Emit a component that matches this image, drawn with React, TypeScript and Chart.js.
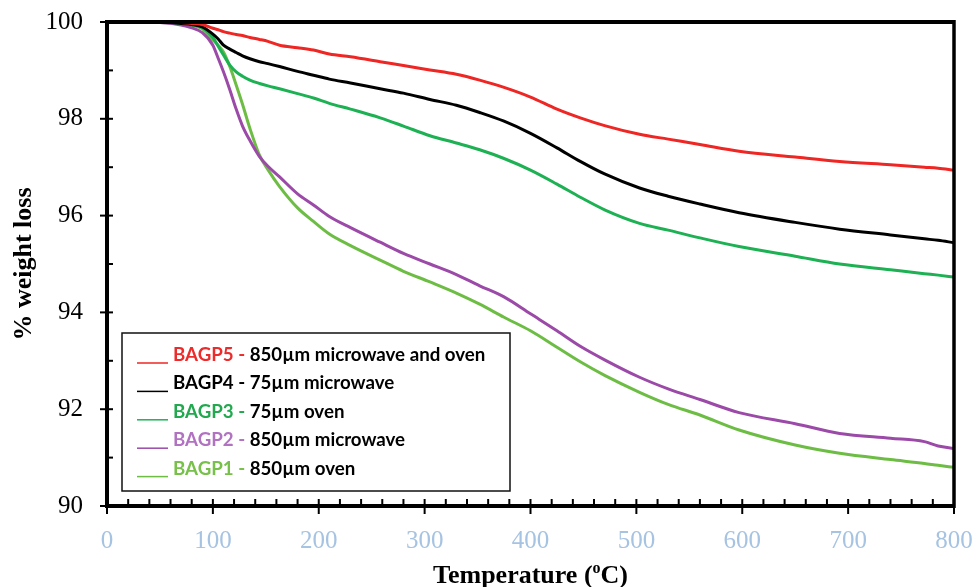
import { useEffect, useRef } from "react";
import { Chart, registerables } from "chart.js";

Chart.register(...registerables);

// Temperature (°C) sample points
const temperatures = [30, 50, 70, 80, 90, 100, 105, 110, 116, 122, 128, 135, 144, 152, 163, 180, 195, 210, 230, 258, 280, 305, 330, 352, 375, 400, 425, 447, 470, 503, 530, 560, 597, 650, 692, 740, 772, 785, 800];

// % weight loss per sample
const bagp5 = [100, 100, 99.99, 99.97, 99.95, 99.87, 99.84, 99.8, 99.77, 99.74, 99.72, 99.68, 99.64, 99.6, 99.52, 99.47, 99.42, 99.34, 99.28, 99.18, 99.1, 99.01, 98.92, 98.8, 98.65, 98.45, 98.2, 98.02, 97.86, 97.68, 97.58, 97.47, 97.33, 97.21, 97.12, 97.05, 97.0, 96.98, 96.94];
const bagp4 = [100, 100, 99.97, 99.95, 99.9, 99.75, 99.65, 99.52, 99.44, 99.37, 99.3, 99.24, 99.18, 99.14, 99.08, 98.98, 98.9, 98.82, 98.74, 98.62, 98.53, 98.4, 98.28, 98.13, 97.95, 97.7, 97.4, 97.12, 96.86, 96.57, 96.4, 96.24, 96.06, 95.86, 95.72, 95.6, 95.52, 95.49, 95.44];
const bagp3 = [100, 100, 99.97, 99.94, 99.88, 99.68, 99.5, 99.32, 99.11, 98.97, 98.88, 98.8, 98.73, 98.68, 98.62, 98.52, 98.43, 98.32, 98.2, 98.02, 97.85, 97.65, 97.5, 97.36, 97.18, 96.94, 96.65, 96.38, 96.12, 95.84, 95.7, 95.54, 95.36, 95.16, 95.0, 94.88, 94.8, 94.77, 94.73];
const bagp2 = [100, 99.99, 99.94, 99.88, 99.78, 99.52, 99.25, 98.97, 98.6, 98.2, 97.85, 97.55, 97.22, 97.02, 96.8, 96.45, 96.22, 95.98, 95.75, 95.45, 95.22, 95.0, 94.78, 94.55, 94.32, 93.97, 93.62, 93.3, 93.02, 92.66, 92.42, 92.2, 91.93, 91.7, 91.5, 91.4, 91.33, 91.24, 91.19];
const bagp1 = [100, 99.99, 99.96, 99.93, 99.86, 99.63, 99.52, 99.38, 99.08, 98.7, 98.3, 97.8, 97.25, 96.95, 96.6, 96.16, 95.88, 95.62, 95.38, 95.08, 94.85, 94.63, 94.4, 94.17, 93.9, 93.62, 93.28, 92.98, 92.7, 92.35, 92.1, 91.88, 91.57, 91.26, 91.09, 90.96, 90.88, 90.84, 90.8];

const seriesNames = ["BAGP5", "BAGP4", "BAGP3", "BAGP2", "BAGP1"];
const seriesDescriptions = ["850µm microwave and oven", "75µm microwave", "75µm oven", "850µm microwave", "850µm oven"];
const seriesValues = [bagp5, bagp4, bagp3, bagp2, bagp1];
const lineColors = ["#ee2724", "#000000", "#1db154", "#9b4aa8", "#6dbd45"];
const labelColors = ["#ee2b2b", "#000000", "#22a94f", "#b272c2", "#77c04a"];

const yMin = 90;
const yMax = 100;
const yStep = 2;
const yMinorStep = 1;
const xMin = 0;
const xMax = 800;
const xStep = 100;
const xMinorStep = 20;

const yTitle = "% weight loss";
const xTitleParts = ["Temperature (", "o", "C)"];

const decorPlugin = {
  id: "decor",
  afterDraw(chart: any) {
    const { ctx, chartArea: a, scales } = chart;
    const x = scales.x;
    const y = scales.y;
    ctx.save();
    ctx.strokeStyle = "#000";
    ctx.lineCap = "butt";
    // x ticks
    ctx.lineWidth = 2;
    for (let v = xMin; v <= xMax; v += xMinorStep) {
      const px = x.getPixelForValue(v);
      const major = v % xStep === 0;
      ctx.beginPath();
      ctx.moveTo(px, a.bottom - 7);
      ctx.lineTo(px, major ? a.bottom + 8 : a.bottom);
      ctx.stroke();
    }
    // y ticks
    for (let v = yMin; v <= yMax; v += yMinorStep) {
      const py = y.getPixelForValue(v);
      const major = (v - yMin) % yStep === 0;
      ctx.beginPath();
      ctx.moveTo(major ? a.left - 7 : a.left, py);
      ctx.lineTo(a.left + 6, py);
      ctx.stroke();
    }
    // frame
    ctx.lineWidth = 4;
    ctx.beginPath();
    ctx.moveTo(a.left - 2, a.top);
    ctx.lineTo(a.right, a.top);
    ctx.stroke();
    ctx.beginPath();
    ctx.moveTo(a.left, a.top - 2);
    ctx.lineTo(a.left, a.bottom + 2);
    ctx.stroke();
    ctx.beginPath();
    ctx.moveTo(a.left, a.bottom);
    ctx.lineTo(a.right, a.bottom);
    ctx.stroke();
    ctx.lineWidth = 3.5;
    ctx.beginPath();
    ctx.moveTo(a.right, a.top - 2);
    ctx.lineTo(a.right, a.bottom + 2);
    ctx.stroke();

    // legend
    const lx = a.left + 15;
    const ly = a.bottom - 173;
    const lw = 388;
    const lh = 158;
    ctx.fillStyle = "#fff";
    ctx.fillRect(lx, ly, lw, lh);
    ctx.lineWidth = 1.5;
    ctx.strokeStyle = "#111";
    ctx.strokeRect(lx, ly, lw, lh);
    ctx.font = "bold 18.7px Lato";
    ctx.textBaseline = "middle";
    ctx.textAlign = "left";
    for (let i = 0; i < seriesNames.length; i++) {
      const rowY = ly + 22 + i * 28.4;
      ctx.strokeStyle = lineColors[i];
      ctx.lineWidth = 1.5;
      ctx.beginPath();
      ctx.moveTo(lx + 15, rowY + 8);
      ctx.lineTo(lx + 46, rowY + 8);
      ctx.stroke();
      const prefix = seriesNames[i] + " - ";
      ctx.fillStyle = labelColors[i];
      ctx.fillText(prefix, lx + 51, rowY);
      const w = ctx.measureText(prefix).width;
      ctx.fillStyle = "#000";
      ctx.fillText(seriesDescriptions[i], lx + 51 + w, rowY);
    }

    // y title
    ctx.save();
    ctx.translate(24, (a.top + a.bottom) / 2);
    ctx.rotate(-Math.PI / 2);
    ctx.font = "bold 26px 'Liberation Serif'";
    ctx.fillStyle = "#000";
    ctx.textAlign = "center";
    ctx.textBaseline = "middle";
    ctx.fillText(yTitle, 0, 0);
    ctx.restore();

    // x title with superscript
    const big = "bold 26px 'Liberation Serif'";
    const small = "bold 16px 'Liberation Serif'";
    ctx.font = big;
    const w1 = ctx.measureText(xTitleParts[0]).width;
    const w3 = ctx.measureText(xTitleParts[2]).width;
    ctx.font = small;
    const w2 = ctx.measureText(xTitleParts[1]).width;
    const total = w1 + w2 + w3;
    const cx = (a.left + a.right) / 2;
    const base = 583;
    let sx = cx - total / 2;
    ctx.fillStyle = "#000";
    ctx.textAlign = "left";
    ctx.textBaseline = "alphabetic";
    ctx.font = big;
    ctx.fillText(xTitleParts[0], sx, base);
    sx += w1;
    ctx.font = small;
    ctx.fillText(xTitleParts[1], sx, base - 10);
    sx += w2;
    ctx.font = big;
    ctx.fillText(xTitleParts[2], sx, base);
    ctx.restore();
  },
};

const zeroPad = (s: any) => {
  s.paddingTop = 0;
  s.paddingBottom = 0;
  s.paddingLeft = 0;
  s.paddingRight = 0;
};

export default function App() {
  const ref = useRef<HTMLCanvasElement | null>(null);
  useEffect(() => {
    if (!ref.current) return;
    const chart = new Chart(ref.current, {
      type: "line",
      data: {
        datasets: seriesNames.map((name, i) => ({
          label: name,
          data: temperatures.map((t, j) => ({ x: t, y: seriesValues[i][j] })),
          borderColor: lineColors[i],
          backgroundColor: lineColors[i],
          borderWidth: 3,
          pointRadius: 0,
          cubicInterpolationMode: "monotone" as const,
          fill: false,
        })),
      },
      options: {
        animation: false,
        responsive: false,
        layout: { autoPadding: false, padding: { top: 22, right: 22, left: 0, bottom: 0 } },
        plugins: { legend: { display: false }, tooltip: { enabled: false } },
        scales: {
          x: {
            type: "linear",
            min: xMin,
            max: xMax,
            ticks: {
              stepSize: xStep,
              color: "#a6c3e2",
              font: { family: "'Liberation Serif'", size: 25 },
              padding: 20,
              maxRotation: 0,
            },
            grid: { display: false, drawTicks: false },
            border: { display: false },
            afterFit: (s: any) => {
              s.height = 81;
              zeroPad(s);
            },
          },
          y: {
            min: yMin,
            max: yMax,
            ticks: {
              stepSize: yStep,
              color: "#000",
              font: { family: "'Liberation Serif'", size: 25 },
              padding: 24,
            },
            grid: { display: false, drawTicks: false },
            border: { display: false },
            afterFit: (s: any) => {
              s.width = 107;
              zeroPad(s);
            },
          },
        },
      },
      plugins: [decorPlugin],
    });
    return () => chart.destroy();
  }, []);
  return (
    <div style={{ position: "absolute", left: 0, top: 0, width: 976, height: 587 }}>
      <canvas ref={ref} width={976} height={587} />
    </div>
  );
}
